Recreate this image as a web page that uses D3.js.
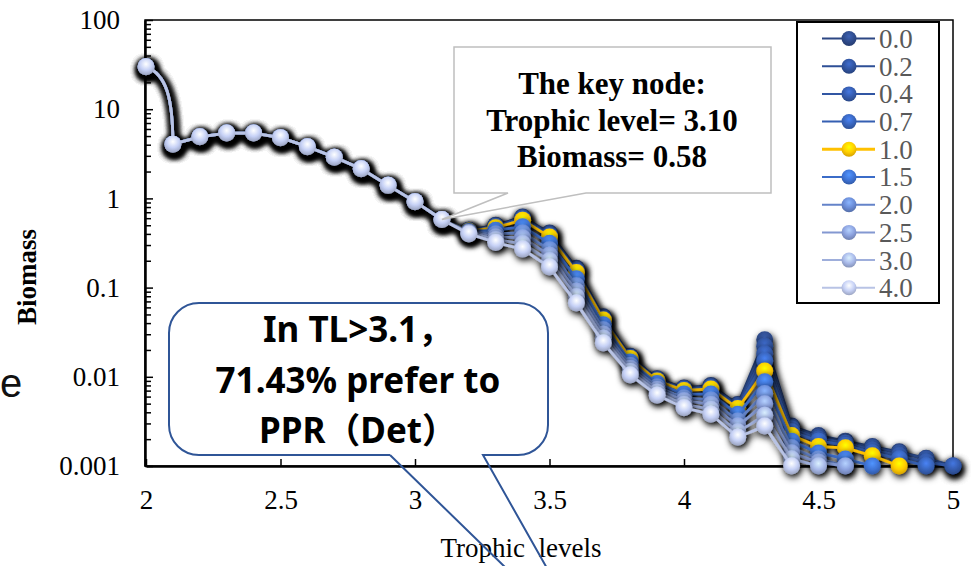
<!DOCTYPE html>
<html>
<head>
<meta charset="utf-8">
<script src="https://cdn.jsdelivr.net/npm/d3@7"></script>
<style>
  body { margin: 0; background: #fff; }
  svg { display: block; }
</style>
</head>
<body>
<svg id="chart" width="971" height="566"></svg>
<script>
// trophic levels (x) shared by every series
const xValues = [2.0, 2.1, 2.2, 2.3, 2.4, 2.5, 2.6, 2.7, 2.8, 2.9, 3.0, 3.1, 3.2, 3.3, 3.4, 3.5,
  3.6, 3.7, 3.8, 3.9, 4.0, 4.1, 4.2, 4.3, 4.4, 4.5, 4.6, 4.7, 4.8, 4.9, 5.0]

// biomass per series, null = no point
const s00 = [30, 4.05, 4.9, 5.4, 5.4, 4.8, 3.8, 2.9, 2.15, 1.4, 0.92, 0.58, 0.44, 0.50, 0.62, 0.41,
  0.165, 0.047, 0.017, 0.0095, 0.0075, 0.008, 0.0049, 0.026, 0.0028, 0.0022, 0.0019, 0.00165, 0.00144, 0.00122, 0.001]
const s02 = [30, 4.05, 4.9, 5.4, 5.4, 4.8, 3.8, 2.9, 2.15, 1.4, 0.92, 0.58, 0.44, 0.49, 0.61, 0.40,
  0.16, 0.046, 0.0168, 0.0094, 0.0074, 0.0078, 0.0048, 0.022, 0.0027, 0.0021, 0.0018, 0.0016, 0.0014, 0.0012, 0.001]
const s04 = [30, 4.05, 4.9, 5.4, 5.4, 4.8, 3.8, 2.9, 2.15, 1.4, 0.92, 0.58, 0.435, 0.485, 0.60, 0.39,
  0.156, 0.045, 0.0165, 0.0093, 0.0073, 0.0077, 0.0047, 0.018, 0.0026, 0.002, 0.0018, 0.0015, 0.0013, 0.0011, 0.001]
const s07 = [30, 4.05, 4.9, 5.4, 5.4, 4.8, 3.8, 2.9, 2.15, 1.4, 0.92, 0.58, 0.435, 0.48, 0.585, 0.38,
  0.152, 0.044, 0.0163, 0.0091, 0.0072, 0.0075, 0.0045, 0.015, 0.0024, 0.0019, 0.0017, 0.0014, 0.0012, 0.001, null]
const s10 = [30, 4.05, 4.9, 5.4, 5.4, 4.8, 3.8, 2.9, 2.15, 1.4, 0.92, 0.58, 0.43, 0.47, 0.57, 0.37,
  0.148, 0.0434, 0.016, 0.009, 0.007, 0.0073, 0.0044, 0.0116, 0.0022, 0.00165, 0.0016, 0.0013, 0.001, null, null]
const s15 = [30, 4.05, 4.9, 5.4, 5.4, 4.8, 3.8, 2.9, 2.15, 1.4, 0.92, 0.58, 0.425, 0.44, 0.48, 0.315,
  0.126, 0.0384, 0.0147, 0.0084, 0.0064, 0.0064, 0.0038, 0.0088, 0.0019, 0.0014, 0.0012, 0.001, null, null, null]
const s20 = [30, 4.05, 4.9, 5.4, 5.4, 4.8, 3.8, 2.9, 2.15, 1.4, 0.92, 0.58, 0.42, 0.40, 0.41, 0.265,
  0.105, 0.0336, 0.0134, 0.0077, 0.0058, 0.0055, 0.0032, 0.0065, 0.0016, 0.0012, 0.001, null, null, null, null]
const s25 = [30, 4.05, 4.9, 5.4, 5.4, 4.8, 3.8, 2.9, 2.15, 1.4, 0.92, 0.58, 0.415, 0.37, 0.36, 0.23,
  0.091, 0.030, 0.0124, 0.0072, 0.0054, 0.0049, 0.0028, 0.005, 0.0014, 0.0011, 0.001, null, null, null, null]
const s30 = [30, 4.05, 4.9, 5.4, 5.4, 4.8, 3.8, 2.9, 2.15, 1.4, 0.92, 0.58, 0.41, 0.345, 0.31, 0.20,
  0.079, 0.027, 0.0115, 0.0067, 0.0049, 0.0043, 0.0024, 0.0037, 0.0012, 0.001, null, null, null, null, null]
const s40 = [30, 4.05, 4.9, 5.4, 5.4, 4.8, 3.8, 2.9, 2.15, 1.4, 0.92, 0.58, 0.40, 0.32, 0.27, 0.17,
  0.067, 0.024, 0.0105, 0.0062, 0.0045, 0.0038, 0.0021, 0.0028, 0.001, null, null, null, null, null, null]

const seriesNames = ["0.0", "0.2", "0.4", "0.7", "1.0", "1.5", "2.0", "2.5", "3.0", "4.0"]
const seriesValues = [s00, s02, s04, s07, s10, s15, s20, s25, s30, s40]
const seriesColors = ["#2c4783", "#2e4f96", "#3156a3", "#355fb2", "#ffc000",
  "#3b6cc8", "#6483c9", "#8398d1", "#9eaedb", "#b8c3e5"]

const xTickValues = [2, 2.5, 3, 3.5, 4, 4.5, 5]
const xTickLabels = ["2", "2.5", "3", "3.5", "4", "4.5", "5"]
const yTickValues = [100, 10, 1, 0.1, 0.01, 0.001]
const yTickLabels = ["100", "10", "1", "0.1", "0.01", "0.001"]

const keyNode = {x: 3.1, y: 0.58}

const serif = "'Times New Roman', 'Liberation Serif', serif"
const svg = d3.select("#chart")

const x = d3.scaleLinear().domain([2, 5]).range([146, 953])
const y = d3.scaleLog().domain([0.001, 100]).range([466, 20])

// defs: shadow + 3D-ish marker gradients
const defs = svg.append("defs")
defs.append("filter")
    .attr("id", "shadow")
    .attr("x", "-10%").attr("y", "-10%")
    .attr("width", "125%").attr("height", "125%")
  .append("feDropShadow")
    .attr("dx", 1.5).attr("dy", 3)
    .attr("stdDeviation", 3.5)
    .attr("flood-color", "#000")
    .attr("flood-opacity", 1)

seriesColors.forEach((c, i) => {
  const g = defs.append("radialGradient")
    .attr("id", "grad" + i)
    .attr("cx", "50%").attr("cy", "35%").attr("r", "65%")
  g.append("stop").attr("offset", "0%").attr("stop-color", d3.color(c).brighter(0.9))
  g.append("stop").attr("offset", "55%").attr("stop-color", d3.color(c).brighter(0.2))
  g.append("stop").attr("offset", "100%").attr("stop-color", d3.color(c).darker(0.5))
})

// plot frame
svg.append("rect")
  .attr("x", 145).attr("y", 20)
  .attr("width", 808).attr("height", 446)
  .attr("fill", "none")
  .attr("stroke", "#000")
  .attr("stroke-width", 1.5)

// y axis: minor then major ticks
const minorTicks = y.ticks().filter(d => !yTickValues.some(v => Math.abs(v - d) < v * 1e-6))
svg.append("g")
  .attr("transform", "translate(145,0)")
  .call(d3.axisLeft(y).tickValues(minorTicks).tickSize(-6).tickSizeOuter(0).tickFormat(""))
  .call(g => g.select(".domain").remove())
  .call(g => g.selectAll("line").attr("stroke-width", 1.5))

svg.append("g")
  .attr("transform", "translate(145,0)")
  .call(d3.axisLeft(y).tickValues(yTickValues).tickSize(-8).tickSizeOuter(0).tickPadding(25)
    .tickFormat((d, i) => yTickLabels[i]))
  .call(g => g.select(".domain").attr("stroke-width", 2.5))
  .call(g => g.selectAll("line").attr("stroke-width", 1.5))
  .call(g => g.selectAll("text").attr("font-family", serif).attr("font-size", 27))

svg.append("g")
  .attr("transform", "translate(0,466)")
  .call(d3.axisBottom(x).tickValues(xTickValues).tickSize(-7).tickSizeOuter(0).tickPadding(24)
    .tickFormat((d, i) => xTickLabels[i]))
  .call(g => g.select(".domain").attr("stroke-width", 2.5))
  .call(g => g.selectAll("line").attr("stroke-width", 1.5))
  .call(g => g.selectAll("text").attr("font-family", serif).attr("font-size", 27))

// series path: smoothed first drop, straight afterwards
function seriesPath(pts){
  const p = d3.path()
  const [x0, y0] = pts[0], [x1, y1] = pts[1]
  p.moveTo(x0, y0)
  p.bezierCurveTo(x0 + 0.75 * (x1 - x0), y0 + 0.1 * (y1 - y0), x1, y0 + 0.4 * (y1 - y0), x1, y1)
  pts.slice(2).forEach(d => p.lineTo(d[0], d[1]))
  return p.toString()
}

seriesValues.forEach((vals, i) => {
  const pts = xValues.map((xv, j) => [xv, vals[j]])
    .filter(d => d[1] != null)
    .map(d => [x(d[0]), y(d[1])])
  const g = svg.append("g").attr("filter", "url(#shadow)")
  g.append("path")
    .attr("d", seriesPath(pts))
    .attr("fill", "none")
    .attr("stroke", seriesColors[i])
    .attr("stroke-width", 2.8)
    .attr("stroke-linejoin", "round")
  g.selectAll("circle")
    .data(pts)
    .join("circle")
    .attr("cx", d => d[0])
    .attr("cy", d => d[1])
    .attr("r", 8.5)
    .attr("fill", `url(#grad${i})`)
})

// legend
const legend = svg.append("g")
legend.append("rect")
  .attr("x", 797).attr("y", 22)
  .attr("width", 142).attr("height", 281)
  .attr("fill", "#fff")
  .attr("stroke", "#000")
  .attr("stroke-width", 2)
seriesNames.forEach((name, i) => {
  const cy = 38.5 + i * 27.7
  legend.append("line")
    .attr("x1", 822).attr("x2", 875)
    .attr("y1", cy).attr("y2", cy)
    .attr("stroke", seriesColors[i])
    .attr("stroke-width", i === 4 ? 3 : 2)
  legend.append("circle")
    .attr("cx", 849).attr("cy", cy).attr("r", 7.5)
    .attr("fill", `url(#grad${i})`)
  legend.append("text")
    .attr("x", 879).attr("y", cy)
    .attr("dy", "0.35em")
    .attr("font-family", serif)
    .attr("font-size", 27)
    .attr("fill", "#595959")
    .text(name)
})

// axis titles
svg.append("text")
  .attr("transform", "translate(36,277) rotate(-90)")
  .attr("text-anchor", "middle")
  .attr("font-family", serif)
  .attr("font-weight", "bold")
  .attr("font-size", 27)
  .text("Biomass")

svg.append("text")
  .attr("x", 521).attr("y", 557)
  .attr("text-anchor", "middle")
  .attr("font-family", serif)
  .attr("font-size", 27)
  .style("white-space", "pre")
  .text("Trophic  levels")

// stray letter near the left edge
svg.append("text")
  .attr("x", 0).attr("y", 397)
  .attr("font-family", "'Liberation Sans', Arial, sans-serif")
  .attr("font-size", 40)
  .attr("fill", "#111")
  .text("e")

// callout 1: key node
const kx = x(keyNode.x), ky = y(keyNode.y)
svg.append("path")
  .attr("d", `M454,47 H771 V193 H586 L${kx},${ky} L508,193 H454 Z`)
  .attr("fill", "#fff")
  .attr("stroke", "#bfbfbf")
  .attr("stroke-width", 1.5)
const keyLines = ["The key node:", "Trophic level= 3.10", "Biomass= 0.58"]
keyLines.forEach((t, i) => {
  svg.append("text")
    .attr("x", 612).attr("y", 94 + i * 36.5)
    .attr("text-anchor", "middle")
    .attr("font-family", serif)
    .attr("font-weight", "bold")
    .attr("font-size", 31)
    .text(t)
})

// callout 2: rounded box with open pointer
svg.append("rect")
  .attr("x", 169).attr("y", 303)
  .attr("width", 379).attr("height", 152)
  .attr("rx", 30)
  .attr("fill", "#fff")
svg.append("path")
  .attr("d", "M390,455 H199 A30,30 0 0 1 169,425 V333 A30,30 0 0 1 199,303 H518 A30,30 0 0 1 548,333 V425 A30,30 0 0 1 518,455 H483 L548,570 M390,455 L508,570")
  .attr("fill", "none")
  .attr("stroke", "#2f5597")
  .attr("stroke-width", 2)
const noteLines = ["In TL>3.1，", "71.43% prefer to", "PPR（Det）"]
noteLines.forEach((t, i) => {
  svg.append("text")
    .attr("x", 358).attr("y", 342 + i * 50.5)
    .attr("text-anchor", "middle")
    .attr("font-family", "'Noto Sans', 'Noto Sans CJK SC', sans-serif")
    .attr("font-weight", "bold")
    .attr("font-size", 35)
    .text(t)
})
</script>
</body>
</html>
